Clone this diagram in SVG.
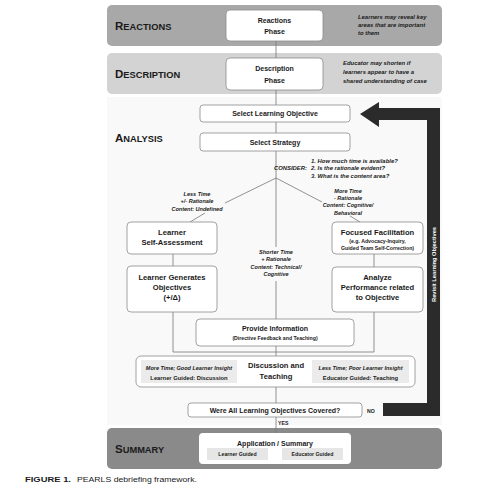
<svg xmlns="http://www.w3.org/2000/svg" width="499" height="490" viewBox="0 0 499 490">
<style>
text{font-family:"Liberation Sans",Arial,sans-serif;fill:#1a1a1a}
.band-t{font-weight:bold}
.big{font-size:11.5px}
.sm{font-size:9.3px}
.box{fill:#fff;stroke:#8c8c8c;stroke-width:0.8}
.gbox{fill:#ebebeb}
.b{font-weight:bold;text-anchor:middle}
.f8{font-size:7.6px}
.f7{font-size:7px}
.f55{font-size:5.2px}
.note{font-size:5.9px;font-style:italic;font-weight:bold}
.lab{font-size:5.5px;font-style:italic;font-weight:bold;text-anchor:middle}
.conn line,.conn polyline{stroke:#777;stroke-width:0.8;fill:none}
</style>
<rect width="499" height="490" fill="#fff"/>
<!-- bands -->
<rect x="107" y="97" width="335" height="328" fill="#f9f9f9"/>
<g id="reactions-band">
<rect x="107" y="5" width="335" height="41" rx="5" fill="#a8a8a8"/>
<text x="115" y="30" class="band-t"><tspan class="big">R</tspan><tspan class="sm">EACTIONS</tspan></text>
<text class="note" x="358" y="19">Learners may reveal key</text>
<text class="note" x="358" y="27">areas that are important</text>
<text class="note" x="358" y="35">to them</text>
</g>
<g id="description-band">
<rect x="107" y="53" width="335" height="41" rx="5" fill="#d3d3d3"/>
<text x="115" y="78" class="band-t"><tspan class="big">D</tspan><tspan class="sm">ESCRIPTION</tspan></text>
<text class="note" x="343" y="65">Educator may shorten if</text>
<text class="note" x="343" y="74">learners appear to have a</text>
<text class="note" x="343" y="83">shared understanding of case</text>
</g>
<g id="analysis-title">
<text x="115" y="142" class="band-t"><tspan class="big">A</tspan><tspan class="sm">NALYSIS</tspan></text>
</g>
<g id="summary-band">
<rect x="107" y="428" width="335" height="41" rx="5" fill="#8a8a8a"/>
<text x="115" y="453" class="band-t"><tspan class="big">S</tspan><tspan class="sm">UMMARY</tspan></text>
</g>
<!-- connectors -->
<g id="connectors" class="conn">
<line x1="276" y1="41" x2="276" y2="58"/>
<line x1="276" y1="90" x2="276" y2="105"/>
<line x1="276" y1="122" x2="276" y2="133"/>
<line x1="276" y1="151" x2="276" y2="178"/>
<line x1="276" y1="178" x2="225" y2="203"/>
<line x1="205" y1="213" x2="190" y2="222"/>
<line x1="276" y1="178" x2="322" y2="202"/>
<line x1="350" y1="216" x2="360" y2="222"/>
<line x1="276" y1="178" x2="276" y2="247"/>
<line x1="276" y1="281" x2="276" y2="319"/>
<line x1="276" y1="346" x2="276" y2="356"/>
<line x1="276" y1="387" x2="276" y2="403"/>
<line x1="276" y1="417" x2="276" y2="433"/>
<line x1="173" y1="254" x2="173" y2="266"/>
<line x1="374" y1="254" x2="374" y2="267"/>
<polyline points="173,312 173,352 374,352 374,312"/>
</g>
<!-- revisit arrow -->
<g id="revisit-arrow">
<path d="M360,114 L379,102 L379,108 L440,108 L440,416 L383,416 L383,403 L427,403 L427,120 L379,120 L379,127 Z" fill="#2b2b2b"/>
<text transform="translate(435.5,264.5) rotate(-90)" text-anchor="middle" font-size="5.6" font-weight="bold" style="fill:#fff" textLength="75" lengthAdjust="spacingAndGlyphs">Revisit Learning Objectives</text>
</g>
<!-- nodes -->
<g id="reactions-phase">
<rect class="box" x="226" y="10" width="97" height="31" rx="4"/>
<text class="b f7" x="274.5" y="23">Reactions</text>
<text class="b f7" x="274.5" y="34">Phase</text>
</g>
<g id="description-phase">
<rect class="box" x="226" y="58" width="97" height="32" rx="4"/>
<text class="b f7" x="274.5" y="71">Description</text>
<text class="b f7" x="274.5" y="83">Phase</text>
</g>
<g id="select-objective">
<rect class="box" x="200" y="105" width="150" height="17" rx="3"/>
<text class="b f7" x="275" y="116">Select Learning Objective</text>
</g>
<g id="select-strategy">
<rect class="box" x="200" y="133" width="150" height="18" rx="3"/>
<text class="b f7" x="275" y="145">Select Strategy</text>
</g>
<g id="consider">
<text class="note" x="307" y="170" text-anchor="end">CONSIDER:</text>
<text class="note" x="311" y="163">1.  How much time is available?</text>
<text class="note" x="311" y="170">2.  Is the rationale evident?</text>
<text class="note" x="311" y="178">3.  What is the content area?</text>
</g>
<g id="label-left">
<text class="lab" x="197" y="196">Less Time</text>
<text class="lab" x="197" y="203">+/- Rationale</text>
<text class="lab" x="197" y="211">Content: Undefined</text>
</g>
<g id="label-center">
<text class="lab" x="276" y="254">Shorter Time</text>
<text class="lab" x="276" y="261">+ Rationale</text>
<text class="lab" x="276" y="269">Content: Technical/</text>
<text class="lab" x="276" y="276">Cognitive</text>
</g>
<g id="label-right">
<text class="lab" x="348" y="193">More Time</text>
<text class="lab" x="348" y="200">- Rationale</text>
<text class="lab" x="348" y="207">Content: Cognitive/</text>
<text class="lab" x="348" y="215">Behavioral</text>
</g>
<g id="self-assessment">
<rect class="box" x="127" y="222" width="90" height="32" rx="4"/>
<text class="b f8" x="172" y="235">Learner</text>
<text class="b f8" x="172" y="245">Self-Assessment</text>
</g>
<g id="learner-generates">
<rect class="box" x="127" y="266" width="90" height="46" rx="4"/>
<text class="b f8" x="172" y="280">Learner Generates</text>
<text class="b f8" x="172" y="290">Objectives</text>
<text class="b f8" x="172" y="300">(+/Δ)</text>
</g>
<g id="focused-facilitation">
<rect class="box" x="332" y="222" width="91" height="32" rx="4"/>
<text class="b f8" x="377.5" y="235">Focused Facilitation</text>
<text class="b f55" x="377.5" y="243">(e.g. Advocacy-Inquiry,</text>
<text class="b f55" x="377.5" y="250">Guided Team Self-Correction)</text>
</g>
<g id="analyze-performance">
<rect class="box" x="332" y="267" width="91" height="45" rx="4"/>
<text class="b f8" x="377.5" y="280">Analyze</text>
<text class="b f8" x="377.5" y="290">Performance related</text>
<text class="b f8" x="377.5" y="300">to Objective</text>
</g>
<g id="provide-information">
<rect class="box" x="196" y="319" width="158" height="27" rx="4"/>
<text class="b f7" x="275" y="331">Provide Information</text>
<text class="b f55" x="275" y="340">(Directive Feedback and Teaching)</text>
</g>
<g id="discussion-teaching">
<rect class="box" x="136" y="356" width="279" height="31" rx="5"/>
<rect class="gbox" x="141" y="360" width="96" height="23"/>
<rect class="gbox" x="312" y="360" width="97" height="23"/>
<text class="lab" x="189" y="370" font-size="5.2">More Time; Good Learner Insight</text>
<text class="b" x="189" y="380" font-size="5.8">Learner Guided: Discussion</text>
<text class="lab" x="360.5" y="370" font-size="5.2">Less Time; Poor Learner Insight</text>
<text class="b" x="360.5" y="380" font-size="5.8">Educator Guided: Teaching</text>
<text class="b f8" x="276" y="368">Discussion and</text>
<text class="b f8" x="276" y="379">Teaching</text>
</g>
<g id="objectives-covered">
<rect class="box" x="188" y="403" width="174" height="14" rx="3"/>
<text class="b f7" x="275" y="413">Were All Learning Objectives Covered?</text>
<text x="367" y="413" font-size="5.2" font-weight="bold">NO</text>
<text x="278" y="425" font-size="5.2" font-weight="bold">YES</text>
</g>
<g id="application-summary">
<rect x="199" y="433" width="152" height="31" rx="4" fill="#fff"/>
<text class="b f7" x="275" y="446">Application / Summary</text>
<rect x="207" y="448" width="61" height="12" fill="#e6e6e6"/>
<rect x="282" y="448" width="61" height="12" fill="#e6e6e6"/>
<text class="b f55" x="237.5" y="456">Learner Guided</text>
<text class="b f55" x="312.5" y="456">Educator Guided</text>
</g>
<g id="caption">
<text x="25" y="482" font-size="7.5" font-weight="bold" textLength="46" lengthAdjust="spacingAndGlyphs">FIGURE 1.</text>
<text x="77" y="482" font-size="7.5" textLength="120" lengthAdjust="spacingAndGlyphs">PEARLS debriefing framework.</text>
</g>
</svg>
